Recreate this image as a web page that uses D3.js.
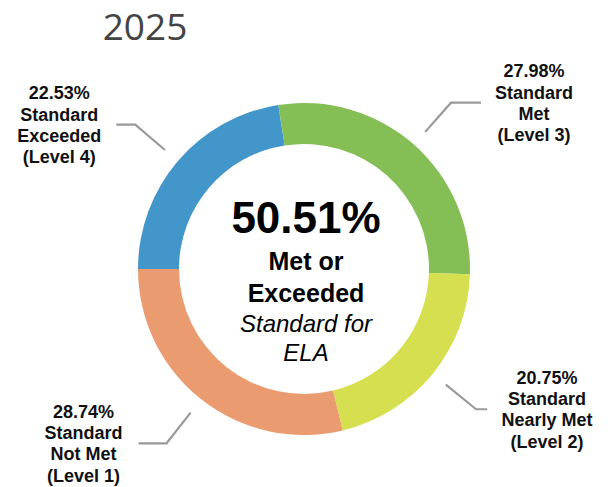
<!DOCTYPE html>
<html>
<head>
<meta charset="utf-8">
<script src="https://cdn.jsdelivr.net/npm/d3@7"></script>
<style>
  html, body { margin: 0; padding: 0; background: #fff; }
  svg { display: block; }
</style>
</head>
<body>
<svg id="chart" width="608" height="487"></svg>
<script>
// ---- data ----
const title = "2025";
const levels = ["Level 4", "Level 3", "Level 2", "Level 1"];
const categories = ["Standard Exceeded", "Standard Met", "Standard Nearly Met", "Standard Not Met"];
const values = [22.53, 27.98, 20.75, 28.74];
const colors = ["#4396CA", "#84BE54", "#D6DF4F", "#EA9C70"];
const labelLines = [
  ["22.53%", "Standard", "Exceeded", "(Level 4)"],
  ["27.98%", "Standard", "Met", "(Level 3)"],
  ["20.75%", "Standard", "Nearly Met", "(Level 2)"],
  ["28.74%", "Standard", "Not Met", "(Level 1)"]
];
const centerValue = "50.51%";
const centerLines = ["Met or", "Exceeded"];
const centerItalic = ["Standard for", "ELA"];

// ---- layout ----
const W = 608, H = 487;
const cx = 304, cy = 269;
const rOuter = 166, rInner = 125;
const hookLen = [19, 30, 11, 28];
const textGap = [57, 53, 60, 55];

const svg = d3.select("#chart");

svg.append("text")
  .attr("x", 145).attr("y", 40)
  .attr("text-anchor", "middle")
  .style("font-family", "'Open Sans', 'Noto Sans', sans-serif")
  .style("font-size", "37px")
  .style("fill", "#444")
  .text(title);

const data = values.map((v, i) => ({ v, i }));
const pie = d3.pie().value(d => d.v).sort(null)
  .startAngle(-Math.PI / 2).endAngle(1.5 * Math.PI);
const arcs = pie(data);
const arc = d3.arc().innerRadius(rInner).outerRadius(rOuter);

const g = svg.append("g").attr("transform", `translate(${cx},${cy})`);
g.selectAll("path.slice").data(arcs).enter().append("path")
  .attr("class", "slice")
  .attr("d", arc)
  .attr("fill", d => colors[d.data.i]);

// leader lines and labels
const pStart = d3.arc().innerRadius(183).outerRadius(183);
const pElbow = d3.arc().innerRadius(222).outerRadius(222);
arcs.forEach(d => {
  const i = d.data.i;
  const s = pStart.centroid(d);
  const e = pElbow.centroid(d);
  const side = e[0] >= 0 ? 1 : -1;
  const end = [e[0] + side * hookLen[i], e[1]];
  g.append("polyline")
    .attr("points", [s, e, end].map(p => p.join(",")).join(" "))
    .attr("fill", "none")
    .attr("stroke", "#9a9a9a")
    .attr("stroke-width", 2.2);
  const tx = end[0] + side * textGap[i];
  const lines = labelLines[i];
  const lh = 21.3;
  const y0 = end[1] - (lines.length - 1) * lh / 2 + 6.5;
  const t = g.append("text")
    .attr("text-anchor", "middle")
    .style("font-family", "'Liberation Sans', Arial, sans-serif")
    .style("font-weight", "bold")
    .style("font-size", "18px")
    .style("fill", "#111");
  lines.forEach((ln, k) => {
    t.append("tspan").attr("x", tx).attr("y", y0 + k * lh).text(ln);
  });
});

// center text
const ct = svg.append("g").attr("transform", `translate(${cx + 2},0)`)
  .style("font-family", "'Liberation Sans', Arial, sans-serif")
  .attr("text-anchor", "middle")
  .style("fill", "#000");
ct.append("text").attr("y", 233).style("font-weight", "bold").style("font-size", "44px").text(centerValue);
ct.append("text").attr("y", 270).style("font-weight", "bold").style("font-size", "25px").text(centerLines[0]);
ct.append("text").attr("y", 302).style("font-weight", "bold").style("font-size", "25px").text(centerLines[1]);
ct.append("text").attr("y", 332).style("font-style", "italic").style("font-size", "24px").text(centerItalic[0]);
ct.append("text").attr("y", 361).style("font-style", "italic").style("font-size", "24px").text(centerItalic[1]);
</script>
</body>
</html>
